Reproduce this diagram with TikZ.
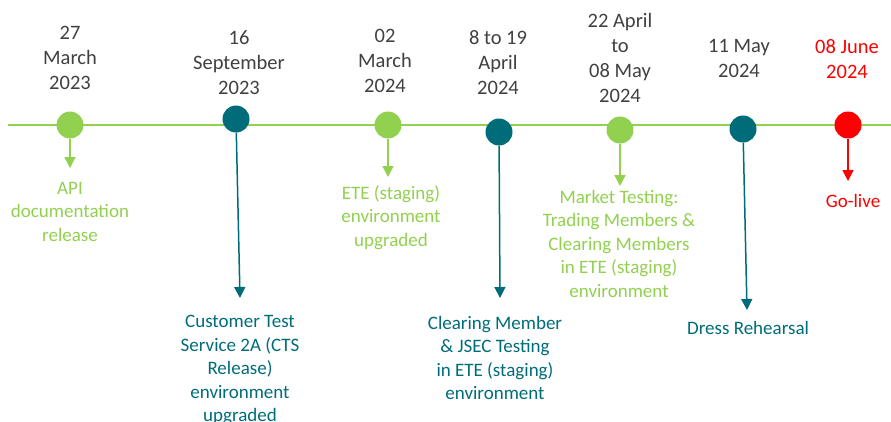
\documentclass[tikz,border=0pt]{standalone}
\usepackage{fontspec}
\setmainfont{Carlito}
\usepackage{tikz}
\usetikzlibrary{arrows.meta}
\usepackage{xcolor}
\definecolor{mgreen}{HTML}{92D050}
\definecolor{mteal}{HTML}{006C7A}
\definecolor{mred}{HTML}{FF0000}
\definecolor{dategray}{HTML}{404040}

\begin{document}
\begin{tikzpicture}[x=1pt, y=-1pt,
    dot/.style={circle, inner sep=0pt, minimum size=27pt},
    datelabel/.style={align=center, anchor=north, inner sep=0pt, text=dategray,
        font=\fontsize{20.5}{25}\selectfont},
    desc/.style={align=center, anchor=north, inner sep=0pt,
        font=\fontsize{19}{23.5}\selectfont},
    pin/.style={line width=1.5pt, -{Triangle[width=11pt, length=11pt]}}]
    \useasboundingbox (0,0) rectangle (891,421);

    % Time axis
    \coordinate (start) at (8,125);
    \coordinate (stop) at (891,125);
    \draw[mgreen, line width=1.5pt] (start) -- (stop);

    % Milestones on the axis
    \node[dot, fill=mgreen] (m1) at (70,125) {};
    \node[dot, fill=mteal]  (m2) at (236,119) {};
    \node[dot, fill=mgreen] (m3) at (388,125) {};
    \node[dot, fill=mteal]  (m4) at (499,132) {};
    \node[dot, fill=mgreen] (m5) at (620,130) {};
    \node[dot, fill=mteal]  (m6) at (743,129) {};
    \node[dot, fill=mred]   (m7) at (848,125) {};

    % Dates above the axis
    \node[datelabel] (d1) at (70,25.5)  {27\\March\\2023};
    \node[datelabel] (d2) at (239,30.5) {16\\September\\2023};
    \node[datelabel] (d3) at (385,28.5) {02\\March\\2024};
    \node[datelabel] (d4) at (498,30.5) {8 to 19\\April\\2024};
    \node[datelabel] (d5) at (620,13.5) {22 April\\to\\08 May\\2024};
    \node[datelabel] (d6) at (739,39.5) {11 May\\2024};
    \node[datelabel, text=mred] (d7) at (847,39.5) {08 June\\2024};

    % Arrow ends
    \coordinate (e1) at (70,168);
    \coordinate (e2) at (240,298);
    \coordinate (e3) at (388,177);
    \coordinate (e4) at (500,298);
    \coordinate (e5) at (620,186);
    \coordinate (e6) at (747,310);
    \coordinate (e7) at (848,181);

    \draw[pin, mgreen] (m1) -- (e1);
    \draw[pin, mteal]  (m2) -- (e2);
    \draw[pin, mgreen] (m3) -- (e3);
    \draw[pin, mteal]  (m4) -- (e4);
    \draw[pin, mgreen] (m5) -- (e5);
    \draw[pin, mteal]  (m6) -- (e6);
    \draw[pin, mred]   (m7) -- (e7);

    % What happens at each milestone
    \node[desc, text=mgreen] (t1) at (70,182)
        {API\\documentation\\release};
    \node[desc, text=mteal] (t2) at (240,315)
        {Customer Test\\Service 2A (CTS\\Release)\\environment\\upgraded};
    \node[desc, text=mgreen] (t3) at (391,185)
        {ETE (staging)\\environment\\upgraded};
    \node[desc, text=mteal] (t4) at (495,316)
        {Clearing Member\\\& JSEC Testing\\in ETE (staging)\\environment};
    \node[desc, text=mgreen] (t5) at (619,190)
        {Market Testing:\\Trading Members \&\\Clearing Members\\in ETE (staging)\\environment};
    \node[desc, text=mteal] (t6) at (748,321) {Dress Rehearsal};
    \node[desc, text=mred] (t7) at (853,194) {Go-live};
\end{tikzpicture}
\end{document}
